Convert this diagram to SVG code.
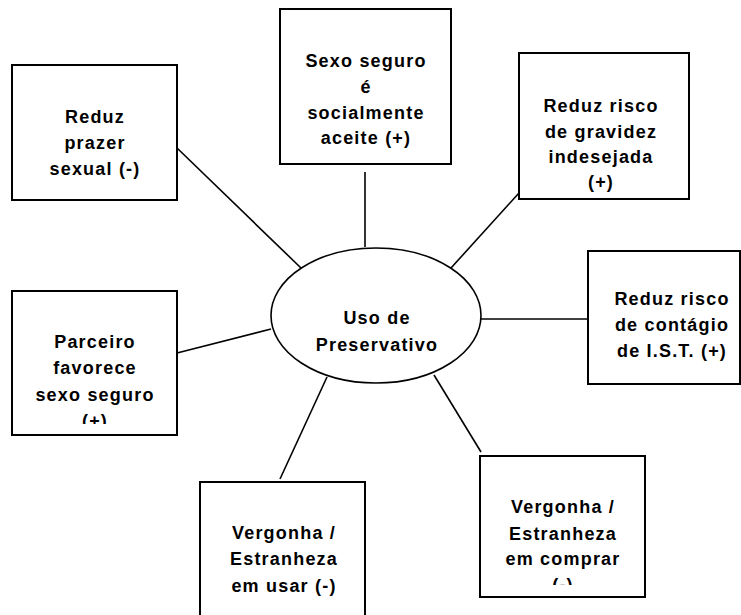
<svg xmlns="http://www.w3.org/2000/svg" width="741" height="615" viewBox="0 0 741 615">
<style>
.box{fill:#fff;stroke:#000;stroke-width:2}
.conn line{stroke:#000;stroke-width:1.6}
text{font-family:"Liberation Sans",Arial,sans-serif;font-weight:bold;font-size:18px;letter-spacing:1.2px;text-anchor:middle;fill:#000}
</style>
<defs>
<clipPath id="clip5"><rect x="12" y="291" width="165" height="133"/></clipPath>
<clipPath id="clip7"><rect x="480" y="456" width="165" height="129"/></clipPath>
</defs>
<rect width="741" height="615" fill="#fff"/>
<g id="connectors" class="conn">
<line x1="177" y1="148" x2="301" y2="268"/>
<line x1="365" y1="172" x2="365" y2="247"/>
<line x1="519" y1="193" x2="451" y2="268"/>
<line x1="481" y1="319" x2="588" y2="319"/>
<line x1="177" y1="353" x2="271" y2="329"/>
<line x1="327" y1="377" x2="280" y2="479"/>
<line x1="434" y1="375" x2="481" y2="452"/>
</g>
<g id="center">
<ellipse cx="376" cy="315.5" rx="105" ry="67.5" fill="#fff" stroke="#000" stroke-width="1.6"/>
<text x="377" y="324">Uso de</text>
<text x="377" y="351">Preservativo</text>
</g>
<g id="n1">
<rect class="box" x="12" y="65" width="165" height="135"/>
<text x="95" y="123">Reduz</text>
<text x="95" y="149">prazer</text>
<text x="95" y="175">sexual (-)</text>
</g>
<g id="n2">
<rect class="box" x="280" y="9" width="171" height="155"/>
<text x="366" y="67">Sexo seguro</text>
<text x="366" y="93">é</text>
<text x="366" y="119">socialmente</text>
<text x="366" y="144">aceite (+)</text>
</g>
<g id="n3">
<rect class="box" x="519" y="53" width="170" height="146"/>
<text x="601" y="112">Reduz risco</text>
<text x="601" y="138">de gravidez</text>
<text x="601" y="163">indesejada</text>
<text x="601" y="188">(+)</text>
</g>
<g id="n4">
<rect class="box" x="588" y="251" width="152" height="133"/>
<text x="672" y="305">Reduz risco</text>
<text x="672" y="331">de contágio</text>
<text x="672" y="357">de I.S.T. (+)</text>
</g>
<g id="n5">
<rect class="box" x="12" y="291" width="165" height="144"/>
<g clip-path="url(#clip5)">
<text x="95" y="348">Parceiro</text>
<text x="95" y="374">favorece</text>
<text x="95" y="401">sexo seguro</text>
<text x="95" y="427">(+)</text>
</g>
</g>
<g id="n6">
<rect class="box" x="200" y="482" width="165" height="145"/>
<text x="284" y="539">Vergonha /</text>
<text x="284" y="565">Estranheza</text>
<text x="284" y="592">em usar (-)</text>
</g>
<g id="n7">
<rect class="box" x="480" y="456" width="165" height="141"/>
<g clip-path="url(#clip7)">
<text x="563" y="513">Vergonha /</text>
<text x="563" y="540">Estranheza</text>
<text x="563" y="565">em comprar</text>
<text x="563" y="591">(-)</text>
</g>
</g>
</svg>
